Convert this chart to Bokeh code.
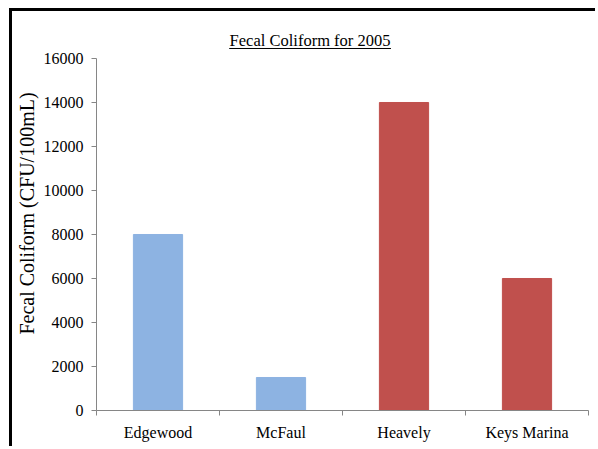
from bokeh.plotting import figure
from bokeh.models import ColumnDataSource, FixedTicker, Range1d, Label
from bokeh.embed import file_html
from bokeh.resources import INLINE

sites = ["Edgewood", "McFaul", "Heavely", "Keys Marina"]
coliform = [8000, 1500, 14000, 6000]
bar_colors = ["#8DB3E2", "#8DB3E2", "#C0504D", "#C0504D"]
y_ticks = [0, 2000, 4000, 6000, 8000, 10000, 12000, 14000, 16000]
title_text = "Fecal Coliform for 2005"
y_label = "Fecal Coliform (CFU/100mL)"

FONT = "Liberation Serif"
AXIS_GRAY = "#868686"

xpos = [i + 0.5 for i in range(len(sites))]
src = ColumnDataSource(dict(x=xpos, top=coliform, color=bar_colors, site=sites))

p = figure(width=586, height=438, output_backend="svg", toolbar_location=None,
           x_range=Range1d(0, len(sites)), y_range=Range1d(0, 17909),
           min_border_left=83, min_border_right=10, min_border_top=5, min_border_bottom=39)
p.styles = {"margin-left": "12px", "margin-top": "11px",
            "box-shadow": "-3px -3px 0 0 #000"}

p.vbar(x="x", top="top", width=0.4, color="color", source=src)

p.outline_line_color = None
p.xgrid.visible = False
p.ygrid.visible = False
p.background_fill_color = "white"
p.border_fill_color = "white"

# x axis: labels at category centers, tick marks at boundaries
xa = p.xaxis[0]
xa.ticker = FixedTicker(ticks=xpos, minor_ticks=list(range(len(sites) + 1)))
xa.major_label_overrides = {x: s for x, s in zip(xpos, sites)}
xa.major_tick_out = 0
xa.major_tick_in = 0
xa.minor_tick_out = 5
xa.minor_tick_in = 0
xa.minor_tick_line_color = AXIS_GRAY
xa.axis_line_color = AXIS_GRAY
xa.major_label_text_font = FONT
xa.major_label_text_font_size = "16px"
xa.major_label_text_color = "black"
xa.major_label_standoff = 8

ya = p.yaxis[0]
ya.ticker = FixedTicker(ticks=y_ticks)
ya.bounds = (y_ticks[0], y_ticks[-1])
ya.minor_tick_line_color = None
ya.major_tick_out = 5
ya.major_tick_in = 0
ya.major_tick_line_color = AXIS_GRAY
ya.axis_line_color = AXIS_GRAY
ya.major_label_text_font = FONT
ya.major_label_text_font_size = "16px"
ya.major_label_text_color = "black"
ya.major_label_standoff = 8
ya.axis_label = y_label
ya.axis_label_text_font = FONT
ya.axis_label_text_font_size = "20px"
ya.axis_label_text_font_style = "normal"
ya.axis_label_text_color = "black"
ya.axis_label_standoff = 3

# underlined chart title
p.add_layout(Label(x=1.736, y=16818, text=title_text, text_align="center",
                   text_baseline="middle", text_font=FONT, text_font_size="16.5px",
                   text_color="black"))
p.segment(x0=[1.079], y0=[16455], x1=[2.394], y1=[16455], line_color="black", line_width=1)

open("out.html", "w").write(file_html(p, INLINE))
